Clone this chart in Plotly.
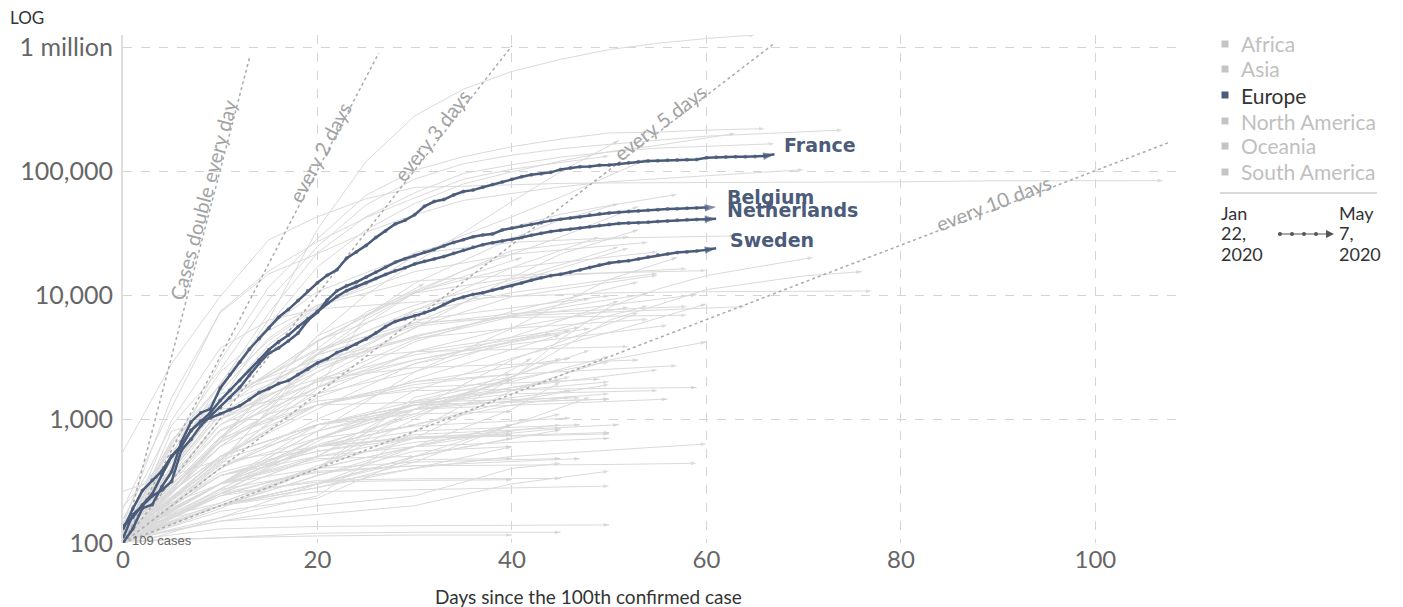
import plotly.graph_objects as go

# ---------------- data ----------------
france = [100,130,191,204,285,377,653,949,1126,1209,1784,2281,2876,3661,4469,5400,6633,7652,9043,10871,
          12612,14459,16018,19856,22302,25233,29155,32964,37575,40174,44550,52128,56989,59105,64338,68605,
          70478,74390,78167,82048,86334,90276,93790,95403,98076,103573,106206,108847,109252,111821,112606,
          114657,117324,119151,120804,121712,122577,123279,124114,124575,128339,129581,130185,130979,131287,
          131863,132967,137150]
belgium = [109,169,200,239,267,314,559,689,886,1058,1243,1486,1795,2257,2815,3401,3743,4269,4937,6235,
           7284,9134,10836,11899,12775,13964,15348,16770,18431,19691,20814,22194,23403,24983,26667,28018,
           29647,30589,31119,33573,34809,36138,37183,38496,39983,40956,41889,42797,44293,45325,46134,46687,
           47334,47859,48519,49032,49517,49906,50267,50509,50781,51420]
netherlands = [128,188,265,321,382,503,614,804,959,1135,1413,1705,2051,2460,2994,3631,4204,4749,5560,6412,
               7431,8603,9762,10866,11750,12595,13614,14697,15723,16627,17851,18803,19580,20549,21762,23097,
               24413,25587,26551,27419,28153,29214,30449,31589,32655,33405,34134,34842,35729,36535,37190,
               37845,38245,38416,38802,39316,39791,40236,40571,40770,41087,41319]
sweden = [137,161,203,248,355,500,599,814,961,1022,1103,1190,1279,1439,1639,1763,1934,2046,2286,2526,2840,
          3069,3447,3700,4028,4435,4947,5568,6131,6443,6830,7206,7693,8419,9141,9685,10151,10483,10948,11445,
          11927,12540,13216,13822,14385,14777,15322,16004,16755,17567,18177,18640,18926,19621,20302,21092,
          21520,22082,22317,22721,23216,23918]
hl_names = ["France", "Belgium", "Netherlands", "Sweden"]
hl_values = [france, belgium, netherlands, sweden]

grey_days = [
    [0,5,10,15,20,25,30,35,40,45,50,55,60,65],
    [0,5,10,15,20,25,30,35,40,45,50,55,60,66],
    [0,5,10,15,20,25,30,35,40,45,50,55,60,65,70,74],
    [0,5,10,15,20,25,30,35,40,45,50,55,60,63],
    [0,5,10,15,20,25,30,35,40,45,50,55,60,67],
    [0,5,10,15,20,25,30,35,40,45,51],
    [0,5,10,15,20,25,30,35,40,45,50],
    [0,5,10,15,20,25,30,35,40,45,50,54],
    [0,5,10,15,20,25,30,35,40,45,50,55,60,65,70],
    [0,5,10,15,20,25,30,35,40,45,50,60,70,80,90,107],
    [0,5,10,15,20,25,30,35,40,45,50,57],
    [0,5,10,15,20,25,30,35,40,45,53],
    [0,10,20,25,30,35,40,45,51],
    [0,10,20,30,40,45,53],
    [0,10,20,30,40,49],
    [0,5,10,15,20,30,40,50,63],
    [0,5,10,15,20,30,40,54],
    [0,10,20,30,40,52],
    [0,10,20,30,40,51],
    [0,10,20,30,40,55],
    [0,10,20,30,41],
    [0,10,20,30,40,50,57],
    [0,10,20,30,40,45,50,55,60,71],
    [0,10,20,30,40,58],
    [0,5,10,15,20,30,40,60],
    [0,10,20,30,40,50,60,70,76],
    [0,5,10,15,20,25,30,40,50,60,77],
    [0,10,20,30,40,55],
    [0,10,20,30,40,55],
    [0,10,20,30,43],
    [0,10,20,31],
    [0,10,20,30,40,53],
    [0,10,20,30,40,54],
    [0,5,10,20,30,40,59],
    [0,10,20,30,50],
    [0,10,20,30,40,51],
    [0,10,20,30,48],
    [0,10,20,30,40,54],
    [0,10,20,30,40,50,60],
    [0,10,20,30,40,58],
    [0,5,10,15,20,30,40,64],
    [0,10,20,30,40,52],
    [0,10,20,30,40,53],
    [0,5,10,15,20,30,40,58],
    [0,10,20,30,40,54],
    [0,10,20,30,40,56],
    [0,10,20,30,47],
    [0,10,20,30,48],
    [0,10,20,30,46],
    [0,10,20,30,45],
    [0,10,20,30,44],
    [0,5,10,20,30,52],
    [0,10,20,30,46],
    [0,10,20,30,40,57],
    [0,5,10,15,20,30,53],
    [0,10,20,30,40,55],
    [0,10,20,30,49],
    [0,5,10,15,20,30,59],
    [0,10,20,30,40,55],
    [0,10,20,30,56],
    [0,10,20,30,50],
    [0,5,10,15,20,47],
    [0,10,20,30,50],
    [0,10,20,30,46],
    [0,10,20,30,46],
    [0,10,20,30,51],
    [0,10,20,30,47],
    [0,10,20,30,47],
    [0,10,20,30,50],
    [0,10,20,30,50],
    [0,10,20,30,40],
    [0,10,20,30,50],
    [0,10,20,30,45],
    [0,10,20,30,45],
    [0,10,20,30,50],
    [0,10,20,30,50,59],
    [0,10,20,30,45],
    [0,10,20,30,40],
    [0,10,20,30,45],
    [0,10,20,30,50],
    [0,10,20,30,45],
    [0,10,20,30,40],
    [0,10,20,30,40],
    [0,10,20,30,40,60],
    [0,10,20,30,40],
    [0,10,20,30,40,50,60],
    [0,10,20,30,40,50],
    [0,10,20,30,40,48],
    [0,10,20,30,40,50],
    [0,10,20,30,40],
    [0,10,20,30,40,45],
    [0,10,20,30,40,45],
    [0,10,20,30,40,42],
    [0,10,20,30,40,46],
    [0,10,20,30,40],
    [0,10,20,30,40,48],
    [0,10,20,30,40],
    [0,10,20,30,40,45],
    [0,10,20,30,40,45],
    [0,10,20,25,30,40,52],
    [0,10,20,30,40,50],
    [0,10,20,30,40,50],
    [0,10,20,30,40,50],
    [0,10,20,30,40,46],
    [0,10,20,30,40,45],
    [0,10,20,30,40],
    [0,10,20,30,40],
    [0,10,20,30,40],
    [0,10,20,30],
    [0,10,20,30,40],
    [0,10,20,30],
    [0,10,20,30,40],
    [0,10,20],
    [0,10,20,30,40,50],
    [0,10,20,30,40,45],
]
grey_vals = [
    [100,500,1700,6400,34000,120000,280000,460000,640000,800000,960000,1080000,1180000,1260000],
    [120,500,2950,11700,28600,64000,102000,131000,158000,182000,204000,207000,215000,221000],
    [155,890,2500,9200,24700,53600,86500,115000,135000,152000,165000,179000,192000,200000,208000,215000],
    [115,460,1950,5700,17000,33700,55000,79000,99000,121000,144000,162000,186000,202000],
    [117,670,1900,7200,22000,43000,67000,96000,113000,130000,143000,154000,159000,167000],
    [114,250,660,1800,4700,10100,18300,32000,57000,99000,177000],
    [191,1240,7400,15700,27000,42300,61000,86300,104000,118000,133000],
    [121,620,1890,4300,8000,12000,20700,30400,43000,61900,92000,126000],
    [141,1500,7200,14900,21600,32300,44600,58200,66200,74900,82200,87000,91500,97400,103000],
    [548,2800,9800,28000,43000,60000,74000,76000,78000,79800,80600,81000,81500,82200,83900,84000],
    [103,420,1400,4000,7700,14000,22000,28000,35600,45000,53000,65000],
    [107,280,700,1300,3400,6400,10400,15700,21400,29500,52000],
    [117,480,1750,6800,12500,19000,28700,40500,54800],
    [103,1000,2400,5400,13900,21400,33700],
    [118,720,2800,7500,16700,29600],
    [114,490,1360,5600,10700,21600,26700,28900,30100],
    [112,640,2400,5200,8300,15500,21400,26700],
    [136,1100,2700,6000,12700,24000],
    [156,1300,4300,8300,13300,24600],
    [129,1300,4300,10600,16700,22400],
    [94,440,3300,10500,20100],
    [262,470,800,2400,5400,13400,20200],
    [93,160,240,800,2100,4400,8000,11200,14400,20200],
    [100,700,4700,10400,13700,16400],
    [104,500,1650,4500,8300,13000,14500,15800],
    [105,274,620,1050,2180,6260,11100,14300,15500],
    [104,977,3736,6284,7755,8236,8800,9786,10450,10674,10810],
    [104,1400,3600,7200,10500,15000],
    [123,430,2100,5500,9700,14500],
    [113,1000,3400,7600,14200],
    [123,1200,4200,12400],
    [117,800,1800,4200,7400,12800],
    [111,460,3000,4600,6900,10300],
    [100,800,1000,2000,4400,6700,10100],
    [103,700,2400,6300,9900],
    [102,470,1500,2800,4600,9000],
    [112,900,2600,4700,9400],
    [116,1200,1600,2400,4300,8200],
    [109,250,660,1700,3100,5000,8500],
    [116,1100,3300,5800,7100,8100],
    [108,600,1300,1900,3300,5600,6800,8100],
    [109,670,1800,3500,5500,8000],
    [100,190,400,1200,3000,7200],
    [107,250,700,1700,3600,6000,6600,6900],
    [197,1500,2800,4500,5400,6400],
    [109,500,1200,2800,4000,5700],
    [115,650,1600,3500,5500],
    [128,820,1800,3000,5400],
    [139,900,2000,3000,5200],
    [100,400,1000,2100,4800],
    [109,600,2100,3300,4900],
    [140,670,1600,3000,3500,3850],
    [131,600,1300,2000,3100],
    [99,500,1300,2000,2300,2700],
    [114,320,1000,1600,2100,2600,3000],
    [101,270,700,1350,1800,2500],
    [105,700,1300,1800,2100],
    [100,250,600,1100,1400,1700,1800],
    [115,300,800,1300,1600,1700],
    [141,500,900,1200,1450],
    [105,500,900,1300,1450],
    [100,300,650,1000,1300,1490],
    [105,300,700,1300,1450],
    [119,300,700,1200,1700],
    [114,420,700,880,1020],
    [111,350,550,750,900],
    [116,300,600,800,900],
    [112,270,370,420,480],
    [110,350,500,600,700],
    [113,350,550,700,760],
    [103,200,350,550,600],
    [110,450,600,700,780],
    [123,300,460,650,840],
    [102,180,230,500,820],
    [106,200,260,270,288],
    [100,250,380,420,430,440],
    [107,240,400,450,480],
    [104,160,300,470,480],
    [102,240,320,330,332],
    [104,130,136,138,140],
    [103,110,120,122,122],
    [103,110,114,116,116],
    [109,250,310,320,324],
    [101,200,280,400,500,630],
    [113,370,600,720,750],
    [109,210,420,700,1700,3000,4200],
    [109,250,500,1400,2100,2900],
    [110,300,600,1100,2200,3600],
    [110,400,900,1300,2000,3200],
    [104,500,1300,1900,2300],
    [113,300,800,1200,1800,2100],
    [137,210,400,1500,2200,3100],
    [111,240,400,1000,2500,3100],
    [101,260,600,900,1300,1500],
    [111,250,500,1200,2100],
    [105,200,280,450,900,1500],
    [110,200,300,400,600],
    [110,300,400,600,900,1100],
    [107,200,400,600,1200,2000],
    [111,1400,3700,7300,10800,23000,29500],
    [109,500,900,1300,1700,2000],
    [115,300,700,1200,1400,1600],
    [127,350,600,900,1400,1900],
    [122,400,900,1400,1700,2200],
    [107,300,500,700,800,900],
    [135,500,900,1100,1150],
    [103,200,350,600,800],
    [126,200,300,600,900],
    [147,300,480,500],
    [109,200,300,500,900],
    [116,300,600,900],
    [105,200,300,500,700],
    [107,300,900],
    [107,150,170,200,300,380],
    [104,150,200,240,400,440],
]

dbl_labels = ["Cases double every day", "every 2 days", "every 3 days", "every 5 days", "every 10 days"]
dbl_end_days = [13, 26.3, 40, 67, 107.5]
dbl_end_vals = [819200, 900000, 1030000, 1080000, 170000]

legend_items = ["Africa", "Asia", "Europe", "North America", "Oceania", "South America"]
date_start = ["Jan", "22,", "2020"]
date_end = ["May", "7,", "2020"]
y_tickvals = [100, 1000, 10000, 100000, 1000000]
y_ticktext = ["100", "1,000", "10,000", "100,000", "1 million"]
x_tickvals = [0, 20, 40, 60, 80, 100]

# ---------------- styling ----------------
HL = "#4b5b7a"
GREY = "#dadada"
FONT = "Lato, 'Open Sans', sans-serif"
# page body has an 8px margin: figure sits at (8, 8) in the window
OFF = 8
W, H = 1395, 599
PL, PT, PW, PH = 123, 35, 1055, 508          # plot area in window pixels
ML, MT = PL - OFF, PT - OFF
MR = W - ML - PW
MB = H - MT - PH


def px(xp):
    return (xp - PL) / PW


def py(yp):
    return (PT + PH - yp) / PH


fig = go.Figure()

for d, v in zip(grey_days, grey_vals):
    n = len(d)
    fig.add_trace(go.Scatter(
        x=d, y=v, mode="lines+markers",
        line=dict(color=GREY, width=1),
        marker=dict(symbol=["circle"] * (n - 1) + ["arrow"], size=[0] * (n - 1) + [6],
                    color="#cfcfcf", angleref="previous", line=dict(width=0)),
        hoverinfo="skip", showlegend=False))

for ed, ev in zip(dbl_end_days, dbl_end_vals):
    fig.add_trace(go.Scatter(
        x=[0, ed], y=[100, ev], mode="lines",
        line=dict(color="#aaaaaa", width=1.5, dash="dot"),
        hoverinfo="skip", showlegend=False))

for name, vals in zip(hl_names, hl_values):
    n = len(vals)
    fig.add_trace(go.Scatter(
        x=list(range(n)), y=vals, mode="lines+markers", name=name,
        line=dict(color=HL, width=2.5),
        marker=dict(symbol=["circle"] * (n - 1) + ["arrow"], size=[4] * (n - 1) + [12],
                    color=HL, angleref="previous", line=dict(width=0)),
        showlegend=False))

ann = []
dbl_pos = [(203, 200, -75), (320, 152, -62), (432, 135, -52), (660, 122, -37.6), (993, 203, -21)]
for lab, (xp, yp, ang) in zip(dbl_labels, dbl_pos):
    ann.append(dict(x=px(xp), y=py(yp), xref="paper", yref="paper", text=lab, showarrow=False,
                    textangle=ang, font=dict(family=FONT, size=20, color="#a3a3a3"),
                    xanchor="center", yanchor="middle"))

lab_pos = [(782, 145), (725, 197), (725, 210), (728, 240)]
for name, (xp, yp) in zip(hl_names, lab_pos):
    ann.append(dict(x=px(xp), y=py(yp), xref="paper", yref="paper", text="<b>%s</b>" % name,
                    showarrow=False, xanchor="left", yanchor="middle",
                    font=dict(family="'DejaVu Sans', sans-serif", size=19, color=HL)))

ann.append(dict(x=px(130), y=py(540), xref="paper", yref="paper", text="109 cases", showarrow=False,
                xanchor="left", yanchor="middle",
                font=dict(family="'Liberation Sans', Arial", size=13, color="#666")))

ann.append(dict(x=px(8), y=py(17), xref="paper", yref="paper", text="LOG", showarrow=False,
                xanchor="left", yanchor="middle", font=dict(family=FONT, size=17, color="#333")))
ann.append(dict(x=px(588), y=py(596), xref="paper", yref="paper",
                text="Days since the 100th confirmed case", showarrow=False,
                xanchor="center", yanchor="middle", font=dict(family=FONT, size=19, color="#333")))

shapes = []
leg_y = [44, 69, 95, 121, 146, 172]
for item, yp in zip(legend_items, leg_y):
    active = item == "Europe"
    shapes.append(dict(type="rect", xref="paper", yref="paper",
                       x0=px(1221.5), x1=px(1228.5), y0=py(yp + 3.5), y1=py(yp - 3.5),
                       fillcolor=HL if active else "#c4c4c4", line=dict(width=0)))
    ann.append(dict(x=px(1239), y=py(yp), xref="paper", yref="paper", text=item, showarrow=False,
                    xanchor="left", yanchor="middle",
                    font=dict(family=FONT, size=21, color="#333" if active else "#c0c0c0")))
shapes.append(dict(type="line", xref="paper", yref="paper", x0=px(1220), x1=px(1377),
                   y0=py(193), y1=py(193), line=dict(color="#cccccc", width=1.5)))
for txt_a, txt_b, yp in zip(date_start, date_end, [213, 233, 254]):
    ann.append(dict(x=px(1219), y=py(yp), xref="paper", yref="paper", text=txt_a,
                    showarrow=False, xanchor="left", yanchor="middle",
                    font=dict(family=FONT, size=18, color="#333")))
    ann.append(dict(x=px(1337), y=py(yp), xref="paper", yref="paper", text=txt_b,
                    showarrow=False, xanchor="left", yanchor="middle",
                    font=dict(family=FONT, size=18, color="#333")))
shapes.append(dict(type="line", xref="paper", yref="paper", x0=px(1278), x1=px(1328),
                   y0=py(234), y1=py(234), line=dict(color="#555", width=1.2)))
for xd in [1280, 1292, 1304, 1316]:
    shapes.append(dict(type="circle", xref="paper", yref="paper", x0=px(xd - 2), x1=px(xd + 2),
                       y0=py(236), y1=py(232), fillcolor="#555", line=dict(width=0)))
shapes.append(dict(type="path", xref="paper", yref="paper",
                   path="M %f,%f L %f,%f L %f,%f Z" % (px(1326), py(230), px(1334), py(234), px(1326), py(238)),
                   fillcolor="#555", line=dict(width=0)))

fig.update_layout(
    width=W, height=H,
    margin=dict(l=ML, r=MR, t=MT, b=MB, autoexpand=False),
    paper_bgcolor="white", plot_bgcolor="white",
    showlegend=False,
    annotations=ann, shapes=shapes,
    font=dict(family=FONT),
    xaxis=dict(range=[0, 108.5], tickvals=x_tickvals, showgrid=True, gridcolor="#d4d4d4",
               griddash="dash", gridwidth=1, zeroline=False, showline=False, ticks="",
               automargin=False,
               tickfont=dict(family=FONT, size=24, color="#666")),
    yaxis=dict(type="log", range=[2, 6.1], tickvals=y_tickvals, ticktext=y_ticktext,
               showgrid=True, gridcolor="#d4d4d4", griddash="dash", gridwidth=1,
               zeroline=False, showline=True, linecolor="#dddddd", linewidth=2, ticks="",
               ticklabelstandoff=3, automargin=False,
               tickfont=dict(family=FONT, size=25, color="#666")),
)

fig.write_html("out.html")
